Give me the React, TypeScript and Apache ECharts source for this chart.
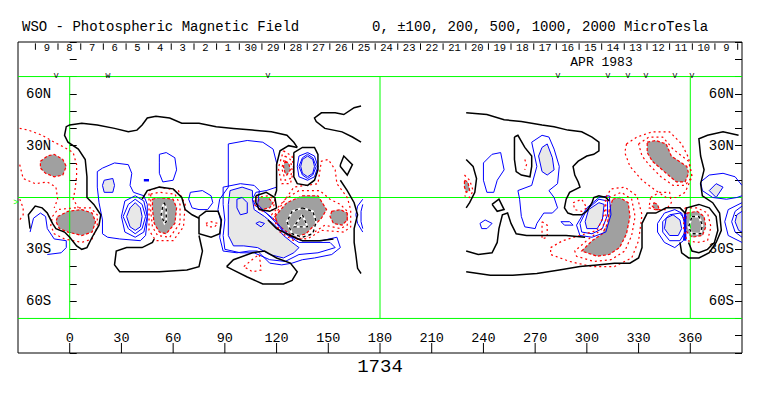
import React, { useEffect, useRef } from 'react';
import * as echarts from 'echarts';

type Pt = [number, number];

const FONT = '"Liberation Mono", "Courier New", monospace';

// ---------- axes / labels ----------
const lonMin = -30;
const lonMax = 390;
const latMin = -90;
const latMax = 90;
const lonLabelValues = [0, 30, 60, 90, 120, 150, 180, 210, 240, 270, 300, 330, 360];
const lonLabelTexts = ['0', '30', '60', '90', '120', '150', '180', '210', '240', '270', '300', '330', '360'];
const lonLabelLat = -81.6;
const lonTickTop = -84.2;
const lonTickBottom = -90;
const latLabelValues = [60, 30, -30, -60];
const latLabelTexts = ['60N', '30N', '30S', '60S'];

const titleLeft = 'WSO - Photospheric Magnetic Field';
const titleRight = '0, \u00b1100, 200, 500, 1000, 2000 MicroTesla';
const rotationLabel = '1734';
const monthLabel = 'APR 1983';
const monthLon = 308.5;
const monthLat = 77.9;

const dayLabels = ['9', '8', '7', '6', '5', '4', '3', '2', '1', '30', '29', '28', '27', '26', '25', '24', '23', '22', '21', '20', '19', '18', '17', '16', '15', '14', '13', '12', '11', '10', '9'];
const dayLabelLon = [-13.3, -0.2, 13.0, 26.1, 39.3, 52.4, 65.5, 78.7, 91.8, 105.0, 118.1, 131.2, 144.4, 157.5, 170.7, 183.8, 196.9, 210.1, 223.2, 236.4, 249.5, 262.6, 275.8, 288.9, 302.1, 315.2, 328.3, 341.5, 354.6, 367.8, 380.9];
const dayTickLon = [-19.9, -6.8, 6.4, 19.5, 32.7, 45.8, 58.9, 72.1, 85.2, 98.4, 111.5, 124.6, 137.8, 150.9, 164.1, 177.2, 190.3, 203.5, 216.6, 229.8, 242.9, 256.0, 269.2, 282.3, 295.5, 308.6, 321.7, 334.9, 348.0, 361.2, 374.3, 387.5];
const dayRowLat = 86.3;
const dayTickTop = 89.2;
const dayTickBottom = 85.5;

const markLon = [-7.9, 22.2, 115, 283.2, 312.2, 323.8, 334.3, 351.1, 361];
const markText = ['V', 'W', 'V', 'V', 'V', 'V', 'V', 'V', 'V'];
const markLat = 70.9;

const greenLines: Pt[][] = [
  [[-30, 70], [390, 70]],
  [[-30, 0], [390, 0]],
  [[-30, -70], [390, -70]],
  [[0, 70], [0, -70]],
  [[180, 70], [180, -70]],
  [[360, 70], [360, -70]],
];

// ---------- contours (lon, lat) ----------
const blackContours: Pt[][] = [
  [[-23, -18], [-24, -10], [-20, -5], [-16, -6], [-13, -9], [-10, -15], [-8, -18], [-3, -20], [0, -23], [4, -28], [7, -30], [10, -29], [13, -23], [17, -16], [18, -10], [14, -4], [10, 0], [10, 12], [9, 22], [5, 28], [-1, 32], [-3, 36], [-2, 41], [0, 42], [7, 43], [16, 42], [26, 40], [34, 38], [39, 39], [42, 42], [45, 46], [50, 47], [58, 46], [65, 43], [75, 43], [85, 41], [95, 40], [106, 39], [117, 38], [126, 36], [130, 32], [132, 29]],
  [[132, 29], [127, 30], [122, 27], [120, 19], [120, 10], [120, 4], [119, 1]],
  [[108, 1], [114, 3], [119, 0], [120, -6], [116, -8], [110, -7], [108, -3], [108, 1]],
  [[130, 26], [135, 29], [142, 29], [144, 25], [144, 16], [142, 10], [138, 7], [132, 8], [130, 12], [130, 26]],
  [[169, 53], [165, 52], [159, 48], [154, 49], [146, 49], [142, 46], [143, 44], [148, 40], [158, 38], [164, 35], [169, 32]],
  [[157, 19], [159, 24], [164, 19], [161, 13], [157, 18], [157, 19]],
  [[157, 10], [161, 4], [165, -3], [167, -10], [165, -18], [165, -26], [166, -33], [167, -41], [169, -44]],
  [[115, -13], [120, -18], [128, -22], [135, -25], [145, -25], [153, -24]],
  [[42, -1], [45, 4], [52, 6], [60, 5], [65, 0], [67, -7], [71, -10], [75, -12]],
  [[75, -11], [79, -8], [86, -8], [88, -13], [87, -21], [82, -23], [75, -21], [75, -15], [75, -11]],
  [[75, -22], [77, -31], [75, -40], [68, -42], [52, -43], [37, -43], [29, -43], [26, -39], [27, -31], [33, -29], [42, -29], [48, -26], [49, -24]],
  [[91, -40], [95, -36], [106, -32], [113, -31], [120, -35], [128, -38], [132, -43], [129, -48], [124, -50], [112, -50], [103, -46], [95, -42], [91, -40]],
  [[230, 49], [242, 48], [252, 45], [262, 44], [274, 42], [281, 41], [289, 39], [297, 38], [303, 35], [307, 32], [307, 27], [304, 25], [300, 24], [295, 21], [292, 18], [293, 13], [295, 9], [296, 6], [290, 3], [288, -1], [287, -6], [289, -9], [292, -10], [297, -10], [300, -8], [303, -3], [304, 0], [307, 1], [311, 0], [313, -2]],
  [[299, -23], [288, -22], [277, -22], [265, -22], [259, -21], [256, -15], [254, -9], [251, -10], [249, -18], [248, -26], [245, -32], [237, -33], [230, -31]],
  [[230, 22], [234, 18], [236, 11], [235, 3], [232, -3], [230, -6]],
  [[245, -4], [249, -1], [252, -7], [248, -8], [245, -4]],
  [[258, 35], [260, 36], [264, 29], [268, 24], [268, 18], [267, 12], [262, 13], [259, 15], [258, 22], [258, 35]],
  [[230, -43], [244, -45], [257, -45], [271, -44], [284, -42], [296, -40], [306, -39], [316, -38], [325, -38], [330, -35], [332, -29], [332, -22], [332, -15], [335, -9], [340, -9], [346, -6], [354, -6], [357, -9], [358, -6], [365, -4], [371, -6], [375, -11], [376, -19], [374, -26], [370, -30], [365, -32], [361, -31], [359, -26]],
  [[354, -26], [355, -32], [359, -35], [365, -35], [371, -32], [375, -26], [378, -19], [377, -9], [373, -3], [367, 1], [366, 8], [368, 16], [366, 24], [365, 34], [370, 36], [379, 38], [388, 36]],
];

const blueContours: Pt[][] = [
  [[-23, -20], [-21, -12], [-17, -9], [-14, -11], [-13, -18], [-9, -24], [-2, -25], [-2, -29], [-5, -32], [-13, -33]],
  [[19, -21], [19, -13], [17, -3], [16, 6], [16, 15], [19, 17], [26, 20], [34, 19], [36, 14], [35, 7], [37, 3], [43, 1], [45, -4], [45, -13], [44, -22], [41, -25], [29, -24], [22, -23], [19, -21]],
  [[38, -1], [42, -4], [44, -11], [42, -18], [38, -21], [34, -18], [31, -11], [34, -4], [38, -1]],
  [[38, 1], [43, -2], [45, -11], [43, -20], [38, -23], [32, -20], [30, -11], [32, -2], [38, 1]],
  [[52, 25], [56, 26], [61, 23], [62, 16], [60, 10], [54, 9], [52, 14], [52, 20], [52, 25]],
  [[70, 3], [77, 4], [82, 1], [83, -3], [80, -7], [75, -7], [71, -6], [69, -1], [70, 3]],
  [[92, 31], [103, 33], [112, 32], [118, 28], [120, 20], [120, 6], [114, 4], [108, 3], [106, -1], [108, -5], [114, -9], [119, -13], [124, -19], [129, -23], [135, -25], [146, -25], [155, -23], [157, -29], [152, -33], [142, -35], [135, -36], [129, -38], [123, -39], [116, -38], [109, -31], [104, -31], [97, -32], [89, -31], [87, -23], [88, -15], [86, -7], [87, -1], [92, 6], [92, 31]],
  [[89, 6], [99, 8], [107, 7], [110, 4], [109, -4], [114, -9], [120, -15], [125, -21], [133, -26], [151, -26], [154, -29], [144, -32], [133, -33], [125, -37], [116, -36], [107, -32], [99, -32], [90, -30], [89, -22], [90, -13], [89, -4], [89, 6]],
  [[97, -1], [100, 0], [103, -3], [103, -9], [99, -10], [97, -6], [97, -1]],
  [[108, -15], [110, -14], [113, -15], [111, -17], [108, -15]],
  [[138, 25], [141, 23], [143, 18], [141, 13], [138, 11], [135, 13], [133, 18], [135, 23], [138, 25]],
  [[138, 26], [142, 24], [144, 18], [142, 12], [138, 10], [133, 12], [132, 18], [133, 24], [138, 26]],
  [[170, -1], [167, -5], [166, -10], [167, -15], [170, -20]],
  [[170, -4], [169, -8], [169, -14], [170, -18]],
  [[240, 20], [245, 25], [250, 26], [252, 16], [248, 10], [246, 3], [242, 3], [240, 10], [240, 20]],
  [[238, -15], [241, -13], [245, -15], [242, -18], [239, -18], [238, -15]],
  [[260, 4], [268, 7], [271, 18], [268, 32], [274, 36], [278, 35], [281, 28], [284, 18], [283, 8], [278, 4], [281, 0], [283, -6], [280, -9], [275, -9], [271, -15], [270, -18], [264, -17], [262, -11], [261, -1], [260, 4]],
  [[285, -14], [290, -14], [292, -16], [287, -16], [285, -14]],
  [[296, -15], [300, -7], [307, -1], [312, -2], [312, -10], [309, -18], [303, -21], [297, -20], [296, -15]],
  [[294, -16], [300, -6], [307, 0], [313, 1], [314, -10], [311, -20], [303, -23], [296, -22], [294, -16]],
  [[390, 7], [386, 12], [379, 14], [371, 13], [366, 9], [367, 4], [373, 0], [381, -1], [387, 0], [390, 1]],
  [[390, -5], [386, -8], [384, -14], [386, -20], [390, -23]],
  [[390, -3], [382, -7], [380, -14], [382, -22], [390, -26]],
  [[344, -14], [348, -10], [354, -9], [357, -13], [357, -20], [354, -25], [348, -25], [344, -20], [344, -14]],
  [[341, -15], [345, -9], [351, -7], [355, -9], [357, -16], [356, -25], [351, -29], [345, -26], [341, -20], [341, -15]],
];

const blueThick: Pt[][] = [
  [[43, 10], [46, 10]],
  [[357, -9], [357, -25]],
];

const redContours: Pt[][] = [
  [[-29, 40], [-24, 39], [-16, 36], [-9, 32], [-3, 29], [2, 26], [4, 19], [4, 12], [3, 4], [2, -1], [5, -6]],
  [[-29, 19], [-27, 11], [-20, 8], [-13, 9], [-8, 6], [-7, -1], [-9, -6]],
  [[-10, -11], [-7, -7], [3, -6], [12, -6], [16, -10], [16, -17], [13, -24], [7, -26], [-3, -24], [-9, -21], [-11, -16], [-10, -11]],
  [[-29, -1], [-27, -6], [-27, -10], [-29, -13]],
  [[47, 2], [52, 3], [61, 2], [64, -4], [64, -15], [58, -23], [51, -22], [48, -17], [47, -8], [47, 2]],
  [[46, 4], [52, 6], [63, 4], [67, -4], [66, -17], [60, -25], [50, -25], [46, -19], [46, -8], [46, 4]],
  [[79, -15], [82, -14], [86, -15], [84, -17], [80, -17], [79, -15]],
  [[101, -40], [107, -35], [110, -33], [111, -42], [106, -43], [101, -40]],
  [[125, 24], [128, 22], [129, 16], [128, 11], [125, 10], [123, 17], [125, 24]],
  [[124, 27], [129, 24], [130, 16], [128, 8], [123, 8], [121, 17], [124, 27]],
  [[108, 0], [115, 1], [119, -1], [118, -7], [111, -8], [107, -4], [108, 0]],
  [[119, -10], [130, 6], [144, 8], [146, 21], [150, 22], [154, 16], [155, 8], [161, 0], [163, -7], [163, -17], [159, -20], [146, -19], [138, -24], [129, -23], [121, -18], [119, -10]],
  [[117, -10], [125, -1], [133, 4], [145, 4], [151, -1], [157, -4], [161, -8], [161, -16], [157, -18], [148, -16], [139, -22], [130, -25], [122, -20], [117, -10]],
  [[229, 13], [232, 10], [234, 4], [232, 0], [229, 1]],
  [[264, 22], [265, 19], [264, 16]],
  [[274, -14], [277, -16], [277, -23], [274, -24], [274, -20], [274, -14]],
  [[292, -3], [297, -1], [300, -6], [297, -8], [293, -7], [292, -3]],
  [[313, 0], [320, 3], [326, -1], [328, -11], [326, -22], [322, -31], [314, -36], [304, -37], [294, -34], [293, -31], [301, -24], [308, -19], [311, -13], [311, -4], [313, 0]],
  [[279, -29], [286, -25], [296, -22], [306, -19], [310, -10], [311, 0], [314, 5], [322, 6], [329, 1], [332, -10], [330, -25], [326, -35], [316, -40], [303, -40], [290, -37], [279, -33], [279, -29]],
  [[330, 31], [336, 35], [344, 35], [350, 28], [359, 21], [361, 12], [357, 7], [350, 7], [343, 12], [336, 19], [332, 24], [330, 31]],
  [[323, 31], [329, 35], [338, 38], [348, 38], [355, 31], [359, 23], [361, 12], [357, 3], [352, 0], [346, 0], [340, 4], [332, 10], [325, 18], [322, 26], [323, 31]],
  [[337, 0], [342, 3], [348, 3], [349, -3], [346, -7], [340, -7], [336, -6], [337, 0]],
  [[357, -6], [364, -6], [370, -9], [372, -17], [370, -25], [364, -26], [358, -25], [356, -17], [357, -6]],
];

const strongContours: Pt[][] = [
  [[55, -3], [56, -7], [56, -14], [55, -15], [53, -10], [54, -5], [55, -3]],
  [[135, -6], [141, -8], [143, -14], [141, -21], [135, -23], [129, -21], [126, -14], [129, -8], [135, -6]],
  [[135, -10], [138, -17], [130, -17], [135, -10]],
  [[361, -11], [365, -11], [367, -16], [366, -21], [361, -21], [359, -17], [361, -11]],
];

const darkPatches: Pt[][] = [
  [[-17, 21], [-13, 24], [-9, 25], [-4, 22], [-2, 18], [-4, 13], [-9, 12], [-14, 14], [-17, 17]],
  [[-7, -11], [-1, -8], [7, -7], [13, -9], [15, -14], [13, -20], [7, -22], [-1, -20], [-6, -18], [-8, -14]],
  [[48, -1], [52, 0], [60, -1], [62, -6], [61, -15], [56, -21], [52, -20], [49, -15], [48, -7]],
  [[125, 21], [127, 20], [128, 16], [126, 13], [125, 14], [124, 18]],
  [[110, 0], [115, 0], [118, -3], [116, -6], [111, -7], [109, -4]],
  [[119, -11], [126, -3], [135, 1], [144, 1], [149, -7], [146, -12], [142, -16], [137, -21], [130, -23], [126, -20], [121, -16]],
  [[152, -8], [157, -7], [161, -9], [161, -13], [158, -16], [153, -15], [151, -11]],
  [[229, 10], [231, 9], [232, 4], [230, 3], [229, 6]],
  [[315, -1], [319, 0], [324, -3], [325, -11], [323, -21], [319, -29], [313, -33], [306, -34], [300, -32], [297, -31], [303, -25], [309, -21], [312, -15], [313, -7]],
  [[335, 32], [340, 33], [346, 31], [349, 24], [358, 18], [359, 14], [357, 9], [352, 9], [346, 14], [338, 21], [335, 26]],
  [[339, -3], [341, -4], [342, -7], [340, -7], [338, -5]],
  [[358, -9], [364, -8], [368, -11], [369, -17], [367, -22], [361, -23], [358, -20], [357, -15]],
];

const lightPatches: Pt[][] = [
  [[20, 10], [25, 11], [26, 7], [25, 3], [20, 3], [19, 7]],
  [[38, -3], [41, -6], [42, -11], [41, -17], [38, -19], [35, -17], [33, -11], [35, -6]],
  [[93, 4], [100, 6], [106, 4], [106, -1], [107, -7], [113, -11], [119, -16], [124, -22], [129, -26], [133, -29], [130, -32], [124, -35], [116, -33], [109, -29], [101, -28], [95, -28], [92, -22], [92, -13], [92, -4]],
  [[138, 24], [141, 22], [142, 18], [141, 14], [138, 12], [135, 14], [134, 18], [135, 22]],
  [[274, 29], [277, 31], [280, 23], [281, 16], [277, 13], [274, 15], [272, 24]],
  [[301, -7], [307, -3], [310, -4], [309, -13], [306, -18], [300, -18], [299, -14]],
  [[371, 4], [375, 8], [379, 6], [375, 0]],
  [[390, -8], [387, -10], [386, -14], [388, -19], [390, -20]],
  [[346, -12], [350, -10], [354, -13], [355, -18], [353, -22], [348, -22], [345, -18]],
];

// ---------- helpers ----------
function shapeSeries(shapes: Pt[][], kind: 'polyline' | 'polygon', style: any, z: number) {
  return {
    type: 'custom',
    coordinateSystem: 'cartesian2d',
    silent: true,
    z,
    clip: true,
    encode: { x: 0, y: 1 },
    data: shapes.map((s, i) => [s[0][0], s[0][1], i]),
    renderItem: (params: any, api: any) => {
      const pts = shapes[params.dataIndex].map((p) => api.coord(p));
      return { type: kind, shape: { points: pts }, style: { ...style } };
    },
  };
}

function textStyle(text: string, size: number, align: string, fill = '#000', extra: any = {}) {
  return {
    text,
    font: `${size}px ${FONT}`,
    fill,
    align,
    verticalAlign: 'middle',
    textAlign: align,
    textVerticalAlign: 'middle',
    ...extra,
  };
}

function textSeries(lons: number[], lat: number, texts: string[], size: number, extra: any = {}) {
  return {
    type: 'custom',
    coordinateSystem: 'cartesian2d',
    silent: true,
    z: 7,
    clip: false,
    encode: { x: 0, y: 1 },
    data: lons.map((lon, i) => [lon, lat, i]),
    renderItem: (params: any, api: any) => {
      const i = params.dataIndex;
      const p = api.coord([lons[i], lat]);
      return { type: 'text', x: p[0], y: p[1], style: textStyle(texts[i], size, 'center', '#000', extra) };
    },
  };
}

function tickSeries(lons: number[], latTop: number, latBottom: number, z: number) {
  return {
    type: 'custom',
    coordinateSystem: 'cartesian2d',
    silent: true,
    z,
    clip: false,
    encode: { x: 0, y: 1 },
    data: lons.map((lon, i) => [lon, latTop, i]),
    renderItem: (params: any, api: any) => {
      const lon = lons[params.dataIndex];
      const a = api.coord([lon, latTop]);
      const b = api.coord([lon, latBottom]);
      return { type: 'line', shape: { x1: a[0], y1: a[1], x2: b[0], y2: b[1] }, style: { stroke: '#000', lineWidth: 1 } };
    },
  };
}

export default function App() {
  const ref = useRef<HTMLDivElement>(null);

  useEffect(() => {
    if (!ref.current) return;
    const chart = echarts.init(ref.current, undefined, { renderer: 'svg' });

    const lineStyleBase = { fill: 'none' };

    const option: any = {
      animation: false,
      backgroundColor: '#fff',
      grid: {
        left: 18,
        right: 21,
        top: 42,
        bottom: 43,
        show: true,
        borderColor: '#000',
        borderWidth: 1,
        containLabel: false,
        outerBoundsMode: 'none',
      },
      xAxis: {
        type: 'value',
        min: lonMin,
        max: lonMax,
        interval: 30,
        position: 'bottom',
        axisLine: { show: false },
        splitLine: { show: false },
        axisTick: { show: false },
        axisLabel: { show: false },
      },
      yAxis: [0, 1].map((k) => ({
        type: 'value',
        min: latMin,
        max: latMax,
        interval: 10,
        position: k === 0 ? 'left' : 'right',
        axisLine: { show: false },
        splitLine: { show: false },
        axisTick: { show: true, inside: true, length: 7, lineStyle: { color: '#000', width: 1 } },
        axisLabel: {
          inside: true,
          margin: 8,
          color: '#000',
          fontFamily: FONT,
          fontSize: 14,
          formatter: (v: number) => {
            const i = latLabelValues.indexOf(v);
            return i >= 0 ? latLabelTexts[i] : '';
          },
        },
      })),
      graphic: [
        { type: 'text', x: 22, y: 27, silent: true, style: textStyle(titleLeft, 14, 'left') },
        { type: 'text', x: 372, y: 27, silent: true, style: textStyle(titleRight, 14, 'left') },
        { type: 'text', x: 380, y: 367, silent: true, style: textStyle(rotationLabel, 19, 'center') },
        { type: 'text', x: 16, y: 203, silent: true, style: textStyle('>', 9, 'center', '#00ff00') },
      ],
      series: [
        shapeSeries(lightPatches, 'polygon', { fill: '#e8e8e8', stroke: '#0000ff', lineWidth: 1 }, 1),
        shapeSeries(darkPatches, 'polygon', { fill: '#a0a0a0', stroke: '#ff0000', lineWidth: 1.2, lineDash: [3, 2] }, 1),
        shapeSeries(greenLines, 'polyline', { ...lineStyleBase, stroke: '#00ff00', lineWidth: 1 }, 2),
        shapeSeries(blueContours, 'polyline', { ...lineStyleBase, stroke: '#0000ff', lineWidth: 1 }, 3),
        shapeSeries(blueThick, 'polyline', { ...lineStyleBase, stroke: '#0000ff', lineWidth: 2.5 }, 3),
        shapeSeries(redContours, 'polyline', { ...lineStyleBase, stroke: '#ff0000', lineWidth: 1.2, lineDash: [2, 3] }, 3),
        shapeSeries(blackContours, 'polyline', { ...lineStyleBase, stroke: '#000', lineWidth: 1.5 }, 4),
        shapeSeries(strongContours, 'polyline', { ...lineStyleBase, stroke: '#fff', lineWidth: 2 }, 5),
        shapeSeries(strongContours, 'polyline', { ...lineStyleBase, stroke: '#000', lineWidth: 1.4, lineDash: [3, 3] }, 6),
        tickSeries(dayTickLon, dayTickTop, dayTickBottom, 7),
        textSeries(dayLabelLon, dayRowLat, dayLabels, 10.5),
        textSeries(markLon, markLat, markText, 8),
        textSeries([monthLon], monthLat, [monthLabel], 13),
        textSeries(lonLabelValues, lonLabelLat, lonLabelTexts, 13.5, { backgroundColor: '#fff', padding: [0, 4, 0, 4], lineHeight: 10 }),
        tickSeries(lonLabelValues, lonTickTop, lonTickBottom, 8),
      ],
    };

    chart.setOption(option);
    return () => {
      chart.dispose();
    };
  }, []);

  return (
    <div
      ref={ref}
      style={{ position: 'absolute', left: 0, top: 0, width: 763, height: 396, background: '#fff' }}
    />
  );
}
